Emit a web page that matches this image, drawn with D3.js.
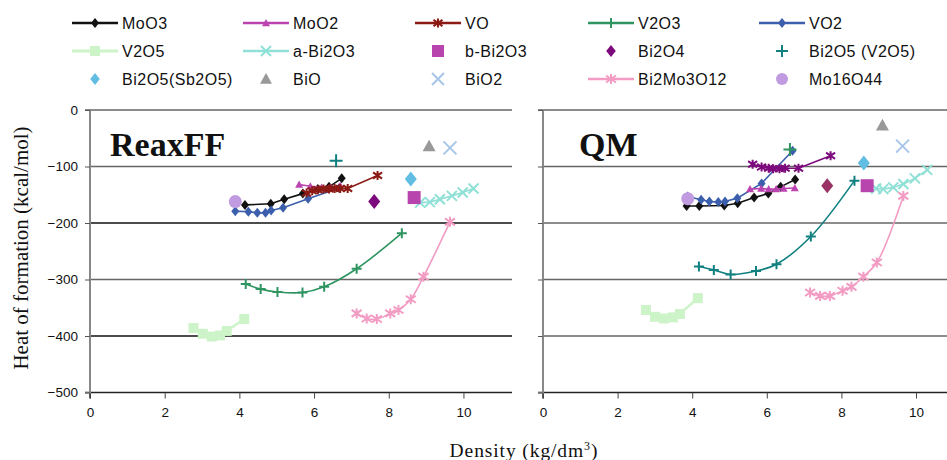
<!DOCTYPE html>
<html><head><meta charset="utf-8">
<script src="https://cdn.jsdelivr.net/npm/d3@7"></script>
<style>body{margin:0;background:#fff}svg{display:block}</style>
</head><body>
<svg id="c" width="947" height="460"></svg>
<script>
// ---------- data ----------
const xTicks = [0, 2, 4, 6, 8, 10];
const yTicks = [0, -100, -200, -300, -400, -500];
const panelTitles = ["ReaxFF", "QM"];
const seriesNames = ["MoO3","MoO2","VO","V2O3","VO2","V2O5","a-Bi2O3","b-Bi2O3","Bi2O4","Bi2O5 (V2O5)","Bi2O5(Sb2O5)","BiO","BiO2","Bi2Mo3O12","Mo16O44"];

// ReaxFF panel  [density, heat of formation]
const reaxMoO3 = [[4.15,-168],[4.84,-166],[5.2,-158],[5.7,-148],[6.1,-140],[6.4,-136],[6.74,-121]];
const reaxMoO2 = [[5.6,-132],[5.9,-135],[6.2,-137],[6.45,-137],[6.7,-134]];
const reaxVO = [[5.8,-147],[5.95,-143],[6.1,-141],[6.25,-140],[6.4,-140],[6.55,-139],[6.7,-139],[6.9,-139],[7.7,-116]];
const reaxV2O3 = [[4.17,-308],[4.57,-317],[5.02,-322],[5.69,-323],[6.27,-313],[7.14,-281],[8.35,-218]];
const reaxVO2 = [[3.89,-179],[4.24,-180],[4.48,-182],[4.7,-182],[4.85,-178],[5.17,-173],[5.84,-157],[6.67,-138]];
const reaxV2O5 = [[2.77,-386],[3.02,-396],[3.26,-401],[3.48,-399],[3.66,-391],[4.13,-370]];
const reaxABi2O3 = [[8.84,-164],[9.1,-163],[9.37,-158],[9.69,-152],[9.98,-146],[10.27,-139]];
const reaxBBi2O3 = [[8.68,-155]];
const reaxBi2O4 = [[7.61,-162]];
const reaxBi2O5V = [[6.59,-90]];
const reaxBi2O5Sb = [[8.59,-122]];
const reaxBiO = [[9.08,-64]];
const reaxBiO2 = [[9.64,-67]];
const reaxBi2Mo3O12 = [[7.14,-360],[7.41,-369],[7.68,-370],[8.04,-360],[8.26,-354],[8.59,-335],[8.93,-295],[9.64,-198]];
const reaxMo16O44 = [[3.89,-162]];

// QM panel
const qmMoO3 = [[3.85,-170],[4.19,-170],[4.86,-169],[5.22,-165],[5.66,-155],[6.04,-148],[6.37,-136],[6.76,-123]];
const qmMoO2 = [[5.55,-140],[5.85,-139],[6.05,-140],[6.25,-140],[6.45,-139],[6.75,-138]];
const qmVO = [[5.62,-96],[5.86,-101],[6.05,-103],[6.17,-104],[6.34,-104],[6.49,-103],[6.85,-103],[7.71,-81]];
const qmV2O3 = [[4.18,-277],[4.58,-283],[5.03,-291],[5.71,-285],[6.26,-273],[7.18,-224],[8.35,-125]];
const qmVO2 = [[3.88,-153],[4.24,-159],[4.46,-162],[4.7,-163],[4.88,-162],[5.21,-156],[5.86,-130],[6.69,-72]];
const qmV2O5 = [[2.76,-354],[3.0,-366],[3.24,-369],[3.48,-367],[3.67,-361],[4.15,-333]];
const qmABi2O3 = [[8.93,-139],[9.12,-140],[9.39,-137],[9.66,-131],[9.97,-121],[10.3,-106]];
const qmBBi2O3 = [[8.69,-134]];
const qmBi2O4 = [[7.62,-134]];
const qmBi2O5V = [[6.62,-70]];
const qmBi2O5Sb = [[8.6,-94]];
const qmBiO = [[9.1,-27]];
const qmBiO2 = [[9.64,-64]];
const qmBi2Mo3O12 = [[7.16,-323],[7.43,-329],[7.69,-329],[8.03,-320],[8.27,-313],[8.59,-295],[8.95,-270],[9.66,-152]];
const qmMo16O44 = [[3.88,-157]];

// ---------- styles ----------
const style = {
  "MoO3":        {color:"#111111", marker:"diamond",  ms:10, line:true},
  "MoO2":        {color:"#bb44b0", marker:"triangle", ms:8,  line:true},
  "VO":          {color:"#8b1a14", marker:"asterisk", ms:9,  line:true},
  "V2O3":        {color:"#2e9460", marker:"plus",     ms:10, line:true, smooth:true},
  "VO2":         {color:"#3c5fad", marker:"diamond",  ms:10, line:true},
  "V2O5":        {color:"#cdf3c8", marker:"square",   ms:10, line:true, lw:2.5},
  "a-Bi2O3":     {color:"#8fe0d6", marker:"x",        ms:10, line:true},
  "b-Bi2O3":     {color:"#b845ad", marker:"square",   ms:13},
  "Bi2O4":       {color:"#7d0a7d", marker:"diamond",  ms:15},
  "Bi2O5 (V2O5)":{color:"#118080", marker:"plus",     ms:13},
  "Bi2O5(Sb2O5)":{color:"#62bde3", marker:"diamond",  ms:15},
  "BiO":         {color:"#999999", marker:"triangle", ms:13},
  "BiO2":        {color:"#a8c6e8", marker:"x",        ms:13},
  "Bi2Mo3O12":   {color:"#f29cc4", marker:"asterisk", ms:10, line:true, smooth:true},
  "Mo16O44":     {color:"#c09be0", marker:"circle",   ms:13}
};
// colours as they appear in the QM panel of the original
const qmColor = {"V2O3":"#118080","Bi2O5 (V2O5)":"#2e9460","VO":"#7d0a7d","Bi2O4":"#993366"};

const reaxData = [reaxMoO3,reaxMoO2,reaxVO,reaxV2O3,reaxVO2,reaxV2O5,reaxABi2O3,reaxBBi2O3,reaxBi2O4,reaxBi2O5V,reaxBi2O5Sb,reaxBiO,reaxBiO2,reaxBi2Mo3O12,reaxMo16O44];
const qmData = [qmMoO3,qmMoO2,qmVO,qmV2O3,qmVO2,qmV2O5,qmABi2O3,qmBBi2O3,qmBi2O4,qmBi2O5V,qmBi2O5Sb,qmBiO,qmBiO2,qmBi2Mo3O12,qmMo16O44];

// ---------- drawing ----------
const svg = d3.select("#c");
const sans = "'Liberation Sans', Arial, sans-serif";
const serif = "'Liberation Serif', 'Times New Roman', serif";

function markerPath(type, s) {
  const h = s / 2;
  switch (type) {
    case "diamond": return `M0,${-h}L${h*0.8},0L0,${h}L${-h*0.8},0Z`;
    case "triangle": return `M0,${-h}L${h},${h*0.8}L${-h},${h*0.8}Z`;
    case "square": return `M${-h},${-h}H${h}V${h}H${-h}Z`;
    case "circle": return d3.arc()({innerRadius:0, outerRadius:h, startAngle:0, endAngle:2*Math.PI});
    case "plus": return `M${-h},0H${h}M0,${-h}V${h}`;
    case "x": return `M${-h},${-h}L${h},${h}M${h},${-h}L${-h},${h}`;
    case "asterisk": return `M${-h},${-h*0.7}L${h},${h*0.7}M${h},${-h*0.7}L${-h},${h*0.7}M0,${-h}V${h}`;
  }
}
function drawMarker(g, type, s, color, x, y) {
  const stroked = ["plus","x","asterisk"].includes(type);
  g.append("path").attr("d", markerPath(type, s))
    .attr("transform", `translate(${x},${y})`)
    .attr("fill", stroked ? "none" : color)
    .attr("stroke", color).attr("stroke-width", stroked ? 2 : 0);
}

const yScale = d3.scaleLinear().domain([-500, 0]).range([392.5, 110]);
const panels = [
  {x0: 90, x1: 512, data: reaxData, title: panelTitles[0], labels: true, qm: false, titleX: 110},
  {x0: 543, x1: 964.5, data: qmData, title: panelTitles[1], labels: false, qm: true, titleX: 579}
];

panels.forEach(p => {
  const xScale = d3.scaleLinear().domain([0, 11.3]).range([p.x0, p.x1]);
  const g = svg.append("g");
  // gridlines
  yTicks.filter(t => t !== -500).forEach(t => {
    const dark = !p.qm && (t === -200 || t === -400);
    g.append("line").attr("x1", p.x0).attr("x2", p.x1)
      .attr("y1", yScale(t)).attr("y2", yScale(t))
      .attr("stroke", dark ? "#111" : "#666").attr("stroke-width", 1.3);
  });
  // x axis
  const xa = g.append("g").attr("transform", `translate(0,${yScale(-500)})`)
    .call(d3.axisBottom(xScale).tickValues(xTicks).tickSize(6).tickPadding(9).tickFormat(d3.format("d")));
  xa.select(".domain").attr("stroke", "#222").attr("stroke-width", 1.5).attr("d", `M${p.x0},6V0H${p.x1}`);
  xa.selectAll(".tick line").attr("stroke", "#444");
  xa.selectAll("text").attr("font-family", sans).attr("font-size", 13.5).attr("fill", "#111");
  // y axis
  const ya = g.append("g").attr("transform", `translate(${p.x0},0)`)
    .call(d3.axisLeft(yScale).tickValues(yTicks).tickSize(5).tickPadding(7)
      .tickFormat(p.labels ? d3.format("d") : () => ""));
  ya.select(".domain").attr("stroke", "#888").attr("stroke-width", 2).attr("d", `M-5,${yScale(0)}H0V${yScale(-500)}H-5`);
  ya.selectAll(".tick line").attr("stroke", "#555");
  ya.selectAll("text").attr("font-family", sans).attr("font-size", 13.5).attr("fill", "#111");

  // series
  const line = d3.line().x(d => xScale(d[0])).y(d => yScale(d[1]));
  const smoothLine = d3.line().x(d => xScale(d[0])).y(d => yScale(d[1])).curve(d3.curveCatmullRom.alpha(0.5));
  const order = [5,3,13,6,0,4,1,2,14,7,8,9,10,11,12];
  order.forEach(i => {
    const name = seriesNames[i], st = style[name], data = p.data[i];
    const color = (p.qm && qmColor[name]) || st.color;
    const sg = g.append("g");
    if (st.line && data.length > 1) {
      sg.append("path").datum(data).attr("d", st.smooth ? smoothLine : line)
        .attr("fill", "none").attr("stroke", color).attr("stroke-width", st.lw || 1.6);
    }
    data.forEach(d => drawMarker(sg, st.marker, st.ms, color, xScale(d[0]), yScale(d[1])));
  });
  // title
  svg.append("text").attr("x", p.titleX).attr("y", 156)
    .attr("font-family", serif).attr("font-weight", "bold").attr("font-size", 34)
    .attr("fill", "#111").text(p.title);
});

// legend
const legCols = [72, 243, 415, 588, 759];
const legRows = [23, 51, 79];
seriesNames.forEach((name, i) => {
  const st = style[name];
  const x = legCols[i % 5], y = legRows[Math.floor(i / 5)];
  const lg = svg.append("g");
  if (st.line) {
    lg.append("line").attr("x1", x).attr("x2", x + 46).attr("y1", y).attr("y2", y)
      .attr("stroke", st.color).attr("stroke-width", st.lw ? 3 : 2.5);
  }
  const ms = st.line ? Math.min(st.ms, 10) : 12;
  drawMarker(lg, st.marker, ms, st.color, x + 23, y);
  lg.append("text").attr("x", x + 50).attr("y", y + 5.5)
    .attr("font-family", sans).attr("font-size", 16).attr("letter-spacing", 0.5)
    .attr("fill", "#111").text(name);
});

// axis labels
svg.append("text").attr("transform", "translate(28,248) rotate(-90)")
  .attr("text-anchor", "middle").attr("font-family", serif).attr("font-size", 21)
  .attr("fill", "#111").text("Heat of formation (kcal/mol)");
const xl = svg.append("text").attr("x", 524).attr("y", 457).attr("text-anchor", "middle")
  .attr("font-family", serif).attr("font-size", 19.5).attr("letter-spacing", 0.9).attr("fill", "#111");
xl.append("tspan").text("Density (kg/dm");
xl.append("tspan").attr("dy", -7).attr("font-size", 12).text("3");
xl.append("tspan").attr("dy", 7).text(")");
</script>
</body></html>
